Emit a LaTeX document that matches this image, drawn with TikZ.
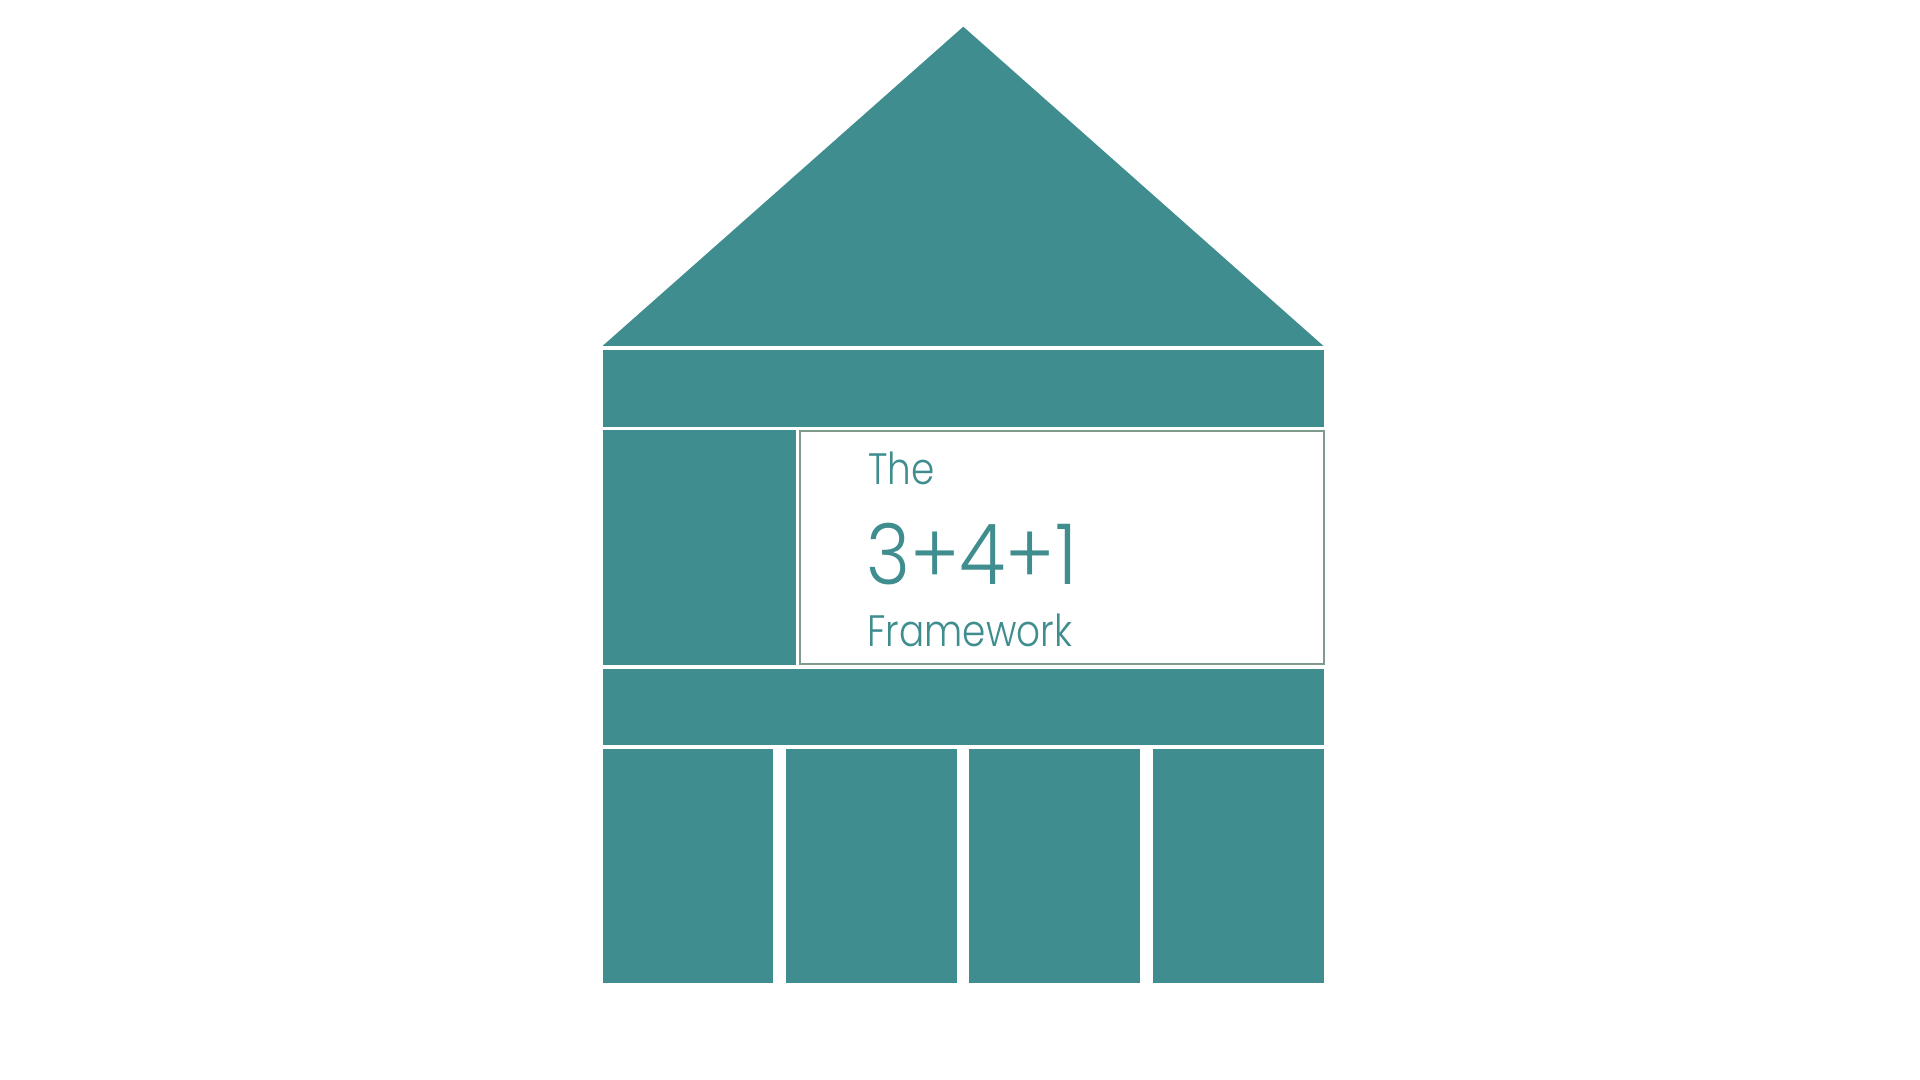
\documentclass[tikz,border=0pt]{standalone}
\usepackage{fontspec}
\setmainfont{Poppins}[UprightFont=* Light, FakeStretch=0.85]
\newfontfamily\numfont{Poppins}[UprightFont=* Light, FakeStretch=0.895]
\definecolor{teal}{HTML}{408D8F}
\definecolor{framegreen}{HTML}{7F9A8C}
\tikzset{
  block/.style={fill=teal, draw=none},
  label/.style={text=teal, anchor=base west, inner sep=0pt, outer sep=0pt},
}
\begin{document}
\begin{tikzpicture}[x=0.5pt, y=-0.5pt]
\useasboundingbox (0,0) rectangle (1920,1080);
% roof
\fill[teal] (602.5,346) -- (963.3,26.7) -- (1323.5,346) -- cycle;
% top band
\path[block] (602.5,350) rectangle (1324,426.7);
% left block
\path[block] (602.5,430) rectangle (796,665);
% framed text box
\draw[framegreen, fill=white, line width=1pt] (799.5,431) rectangle (1324.2,664.2);
% lower band
\path[block] (602.5,669) rectangle (1324,745);
% columns
\path[block] (602.5,749) rectangle (773.3,982.7);
\path[block] (785.7,749) rectangle (956.7,982.7);
\path[block] (969.3,749) rectangle (1140,982.7);
\path[block] (1152.7,749) rectangle (1324,982.7);
% texts
\node[label, font=\fontsize{22pt}{26pt}\selectfont] (the) at (868.5,484) {The};
\node[label, font=\numfont\fontsize{42pt}{48pt}\selectfont] (num) at (866.5,584) {3+4+1};
\node[label, font=\fontsize{22pt}{26pt}\selectfont] (fw) at (867.5,646.7) {Framework};
\end{tikzpicture}
\end{document}
